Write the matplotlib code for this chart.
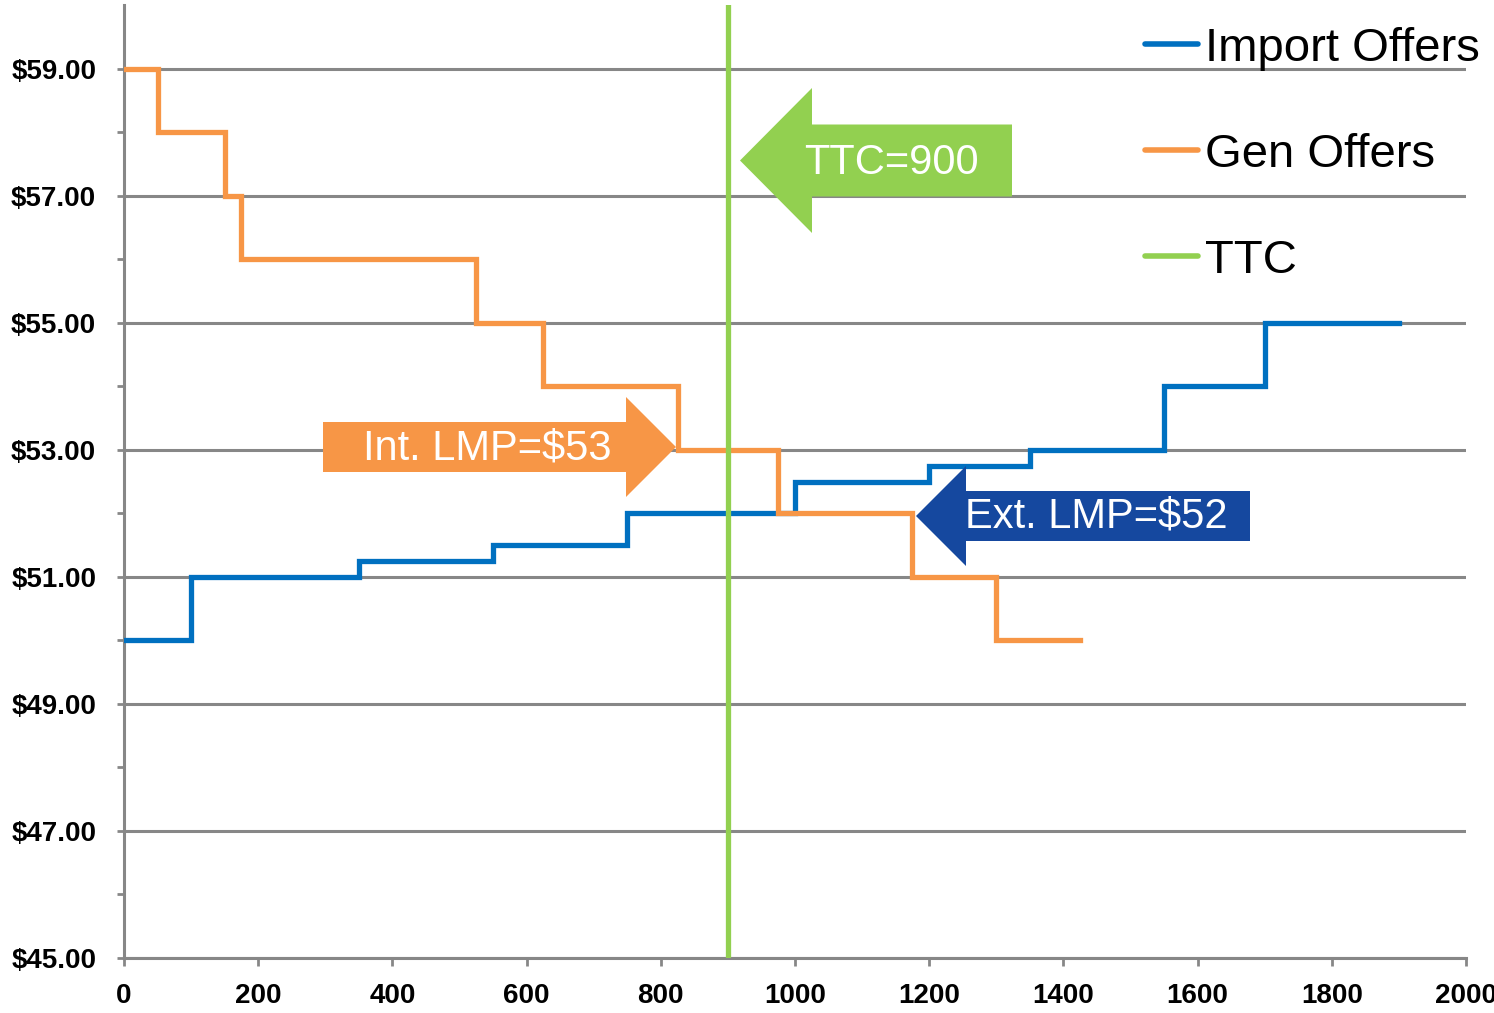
import matplotlib
matplotlib.use("Agg")
import matplotlib.pyplot as plt
from matplotlib.patches import Polygon
from matplotlib.ticker import FixedLocator

# ---- data ----
gen_mw = [0, 50, 150, 175, 525, 625, 825, 975, 1175, 1300, 1425]
gen_price = [59, 58, 57, 56, 55, 54, 53, 52, 51, 50, 50]
imp_mw = [0, 100, 350, 550, 750, 1000, 1200, 1350, 1550, 1700, 1900]
imp_price = [50, 51, 51.25, 51.5, 52, 52.5, 52.75, 53, 54, 55, 55]
ttc_mw = 900
y_major = [45, 47, 49, 51, 53, 55, 57, 59]
y_minor = [46, 48, 50, 52, 54, 56, 58]
x_ticks = [0, 200, 400, 600, 800, 1000, 1200, 1400, 1600, 1800, 2000]
series_labels = ["Import Offers", "Gen Offers", "TTC"]
ann_ttc = "TTC=900"
ann_int = "Int. LMP=$53"
ann_ext = "Ext. LMP=$52"

W, H = 1494, 1013
fig = plt.figure(figsize=(W / 100, H / 100), dpi=100)
ax = fig.add_axes([124 / W, (H - 958) / H, (1466 - 124) / W, (958 - 5) / H])

GRAY = "#878787"
BLUE = "#0070C0"
ORANGE = "#F79646"
GREEN = "#92D050"
DBLUE = "#15489F"

ax.set_xlim(0, 2000)
ax.set_ylim(45, 60)

for y in y_major:
    ax.axhline(y, color=GRAY, lw=2.2, zorder=1)

l1, = ax.step(imp_mw, imp_price, where="post", color=BLUE, lw=3.8, zorder=3,
              label=series_labels[0], solid_joinstyle="miter")
l2, = ax.step(gen_mw, gen_price, where="post", color=ORANGE, lw=3.8, zorder=3,
              label=series_labels[1], solid_joinstyle="miter")
l3 = ax.axvline(ttc_mw, color=GREEN, lw=3.8, zorder=4, label=series_labels[2])

for s in ["top", "right"]:
    ax.spines[s].set_visible(False)
for s in ["left", "bottom"]:
    ax.spines[s].set_color(GRAY)
    ax.spines[s].set_linewidth(2.2)

ax.yaxis.set_major_locator(FixedLocator(y_major))
ax.yaxis.set_minor_locator(FixedLocator(y_minor))
ax.set_yticklabels([f"${v:.2f}" for v in y_major])
ax.set_xticks(x_ticks)
ax.set_xticklabels([str(v) for v in x_ticks])
ax.tick_params(axis="y", which="both", length=5, width=2, color=GRAY, pad=15)
ax.tick_params(axis="x", length=6, width=2, color=GRAY, pad=12)
for lab in ax.get_yticklabels() + ax.get_xticklabels():
    lab.set_fontfamily("Liberation Sans")
    lab.set_fontweight("bold")
    lab.set_fontsize(20)

leg = ax.legend(handles=[l1, l2, l3], loc="upper left",
                bbox_to_anchor=(1145 / W, (H - 27) / H), bbox_transform=fig.transFigure,
                frameon=False, borderpad=0, borderaxespad=0,
                handlelength=1.12, handletextpad=0.15, labelspacing=1.31,
                prop={"family": "Liberation Sans", "size": 34})
for ln in leg.get_lines():
    ln.set_linewidth(4)
    ln.set_solid_capstyle("round")


def px(x, y):
    return (x / W, (H - y) / H)


def arrow_left(tip, cy, hb, hh, xe, bh, color):
    pts = [(tip, cy), (hb, cy - hh), (hb, cy - bh), (xe, cy - bh), (xe, cy + bh),
           (hb, cy + bh), (hb, cy + hh)]
    fig.patches.append(Polygon([px(*p) for p in pts], closed=True, fc=color, ec="none",
                               transform=fig.transFigure, figure=fig, zorder=5))


arrow_left(740, 160.5, 812, 72.5, 1012, 36, GREEN)
arrow_left(916, 516, 966, 50, 1250, 25, DBLUE)
arrow_left(676, 447, 626, 50, 323, 25, ORANGE)

fig.text(*px(891, 163), ann_ttc, color="white", fontsize=30, family="Liberation Sans",
         ha="center", va="center", zorder=6)
fig.text(*px(487, 449), ann_int, color="white", fontsize=30, family="Liberation Sans",
         ha="center", va="center", zorder=6)
fig.text(*px(1096, 517), ann_ext, color="white", fontsize=30, family="Liberation Sans",
         ha="center", va="center", zorder=6)

fig.savefig("out.png", dpi=100)
